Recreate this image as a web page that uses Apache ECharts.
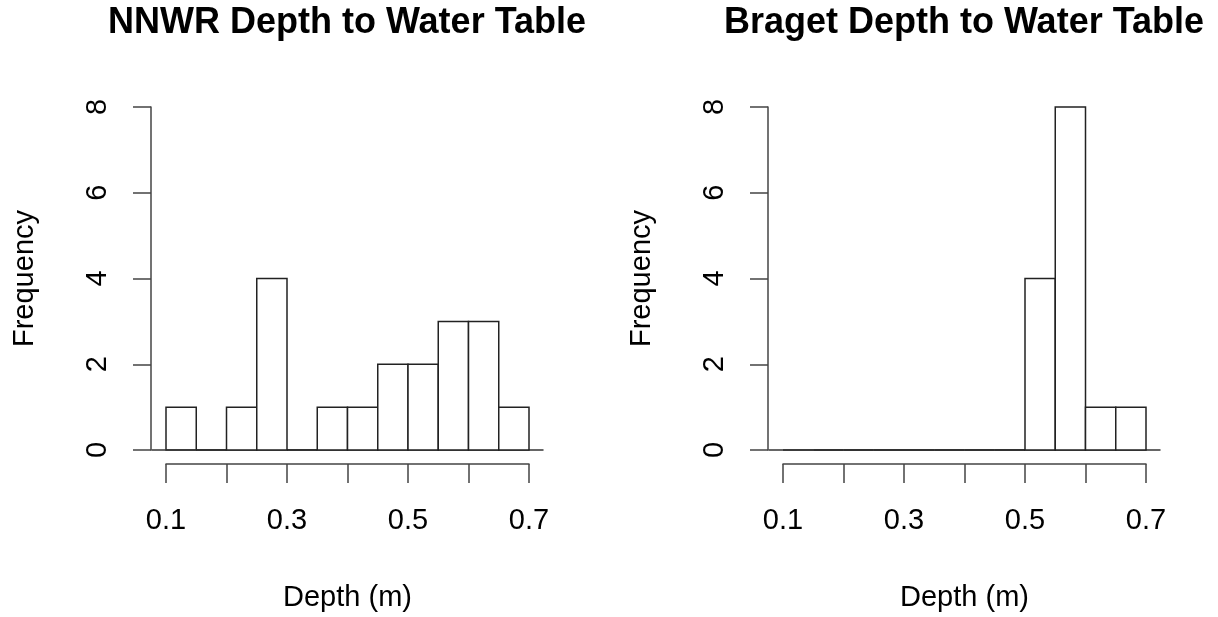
<!DOCTYPE html>
<html>
<head>
<meta charset="utf-8">
<title>Depth to Water Table</title>
<script src="https://cdn.jsdelivr.net/npm/echarts@6/dist/echarts.min.js"></script>
<style>
html, body { margin: 0; padding: 0; background: #fff; }
#chart { width: 1218px; height: 617px; }
</style>
</head>
<body>
<div id="chart"></div>
<script>
// histogram bins (m), 0.05 wide
const binEdges = [0.10, 0.15, 0.20, 0.25, 0.30, 0.35, 0.40, 0.45, 0.50, 0.55, 0.60, 0.65, 0.70];
const nnwrCounts = [1, 0, 1, 4, 0, 1, 1, 2, 2, 3, 3, 1];
const bragetCounts = [0, 0, 0, 0, 0, 0, 0, 0, 4, 8, 1, 1];
const xTickLabels = ['0.1', '0.3', '0.5', '0.7'];
const yTickLabels = ['0', '2', '4', '6', '8'];
const titles = ['NNWR Depth to Water Table', 'Braget Depth to Water Table'];
const xName = 'Depth (m)';
const yName = 'Frequency';

const font = "'Liberation Sans', Arial, Helvetica, sans-serif";

function toBins(counts) {
    return counts.map((c, i) => [binEdges[i], binEdges[i + 1], c]);
}

// R-style: white boxes, plus a zero line running a bit past the bins
function renderHist(params, api) {
    const top = api.coord([api.value(0), api.value(2)]);
    const bot = api.coord([api.value(1), 0]);
    const children = [{
        type: 'rect',
        shape: {x: top[0], y: top[1], width: bot[0] - top[0], height: bot[1] - top[1]},
        style: {fill: '#fff', stroke: '#222', lineWidth: 1.5}
    }];
    if (params.dataIndex === 0) {
        const first = binEdges[0], last = binEdges[binEdges.length - 1];
        const ext = (last - first) * 0.04;
        const a = api.coord([first - ext, 0]);
        const b = api.coord([last + ext, 0]);
        children.push({
            type: 'line',
            shape: {x1: a[0], y1: a[1], x2: b[0], y2: b[1]},
            style: {stroke: '#333', lineWidth: 1.5}
        });
    }
    return {type: 'group', children: children};
}

function xAxisFor(i) {
    return {
        gridIndex: i,
        type: 'value',
        min: 0.1,
        max: 0.7,
        interval: 0.1,
        offset: 14,
        name: xName,
        nameLocation: 'middle',
        nameGap: 119,
        nameTextStyle: {fontFamily: font, fontSize: 29, color: '#000', lineHeight: 29},
        axisLine: {show: true, onZero: false, lineStyle: {color: '#444', width: 1.5}},
        axisTick: {show: true, length: 19, lineStyle: {color: '#444', width: 1.5}},
        axisLabel: {
            margin: 42,
            fontFamily: font, fontSize: 29, color: '#000', lineHeight: 29,
            formatter: v => {
                const s = (+v).toFixed(1);
                return xTickLabels.includes(s) ? s : '';
            }
        },
        splitLine: {show: false}
    };
}

function yAxisFor(i) {
    return {
        gridIndex: i,
        type: 'value',
        min: 0,
        max: 8,
        interval: 2,
        offset: 15,
        name: yName,
        nameLocation: 'middle',
        nameGap: 112,
        nameTextStyle: {fontFamily: font, fontSize: 29, color: '#000', lineHeight: 29},
        axisLine: {show: true, onZero: false, lineStyle: {color: '#444', width: 1.5}},
        axisTick: {show: true, length: 18, lineStyle: {color: '#444', width: 1.5}},
        axisLabel: {
            rotate: 90,
            margin: 39,
            fontFamily: font, fontSize: 29, color: '#000', lineHeight: 29,
            formatter: v => yTickLabels.includes(String(v)) ? String(v) : ''
        },
        splitLine: {show: false}
    };
}

const myChart = echarts.init(document.getElementById('chart'));
myChart.setOption({
    animation: false,
    backgroundColor: '#fff',
    title: [
        {text: titles[0], left: 347, top: 5, padding: 0, textAlign: 'center',
            textStyle: {fontFamily: font, fontSize: 36, fontWeight: 'bold', color: '#000', lineHeight: 36}},
        {text: titles[1], left: 964, top: 5, padding: 0, textAlign: 'center',
            textStyle: {fontFamily: font, fontSize: 36, fontWeight: 'bold', color: '#000', lineHeight: 36}}
    ],
    grid: [
        {left: 166, top: 107, width: 363, height: 343, outerBoundsMode: 'none'},
        {left: 783, top: 107, width: 363, height: 343, outerBoundsMode: 'none'}
    ],
    xAxis: [xAxisFor(0), xAxisFor(1)],
    yAxis: [yAxisFor(0), yAxisFor(1)],
    series: [
        {type: 'custom', xAxisIndex: 0, yAxisIndex: 0, renderItem: renderHist,
            encode: {x: [0, 1], y: 2}, data: toBins(nnwrCounts)},
        {type: 'custom', xAxisIndex: 1, yAxisIndex: 1, renderItem: renderHist,
            encode: {x: [0, 1], y: 2}, data: toBins(bragetCounts)}
    ]
});
</script>
</body>
</html>
